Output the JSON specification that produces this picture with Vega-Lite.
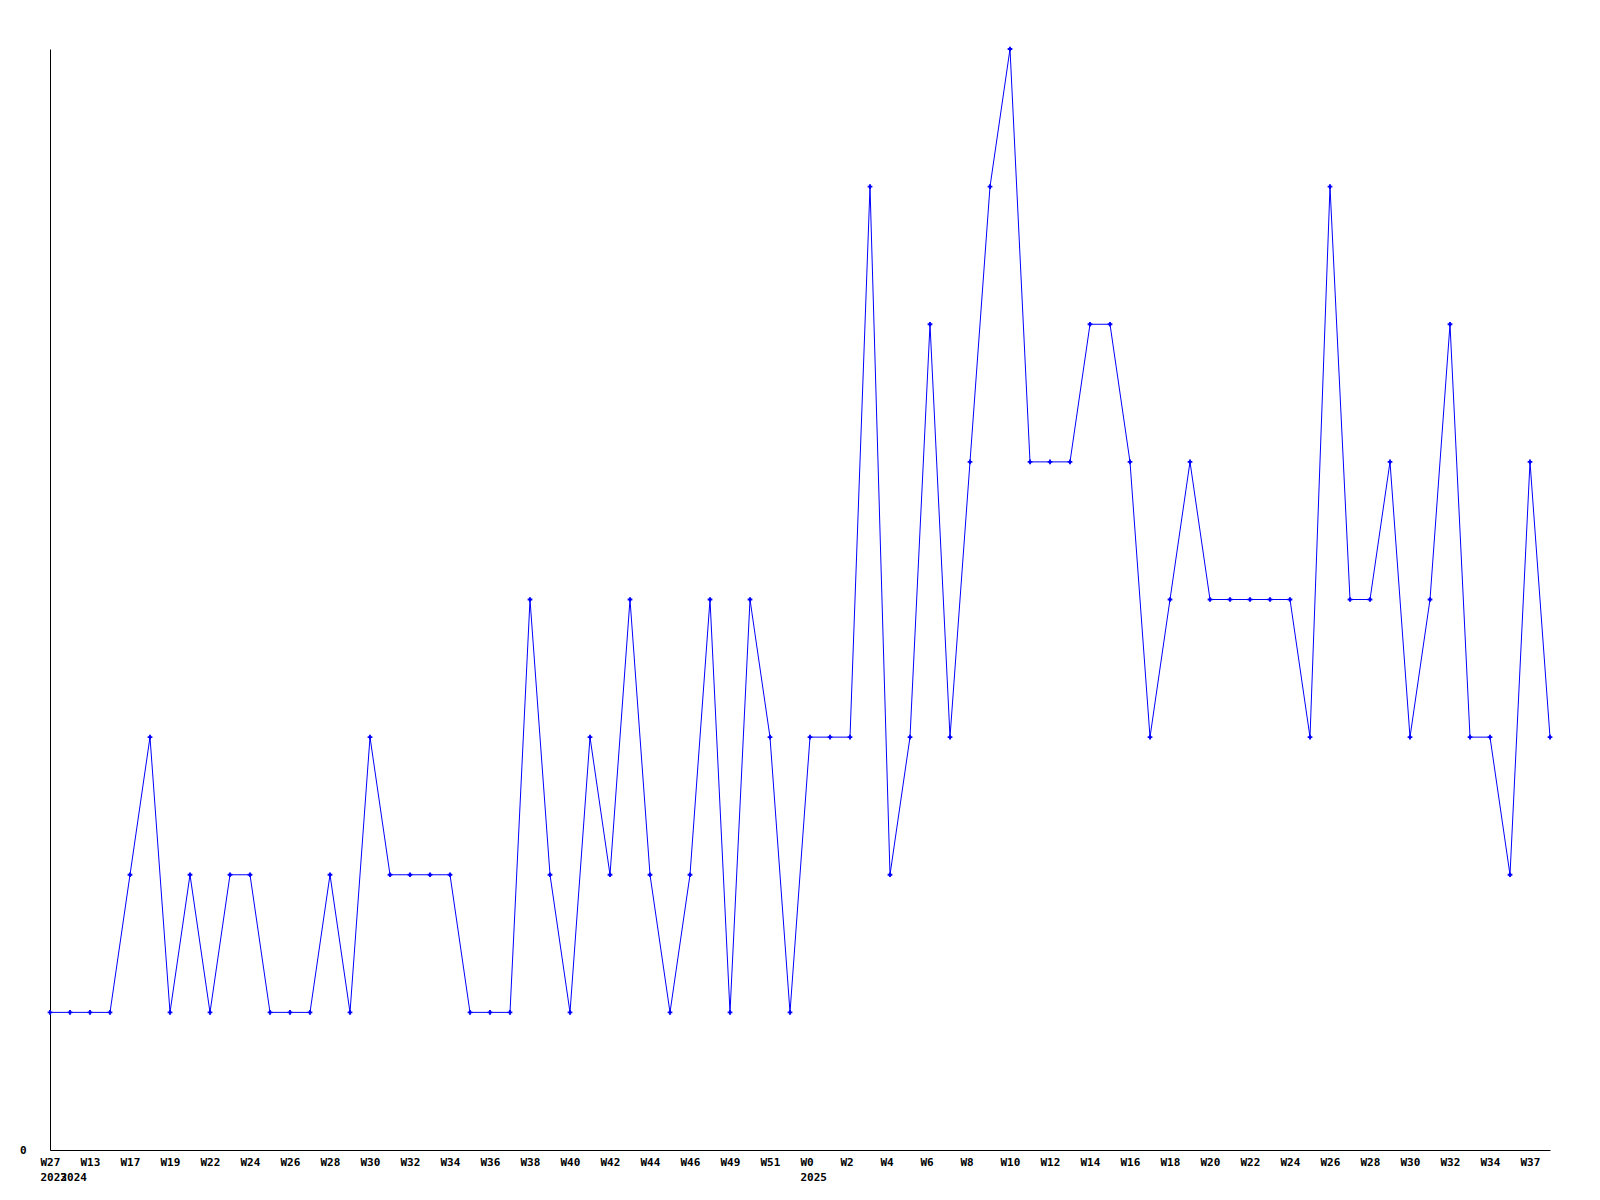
{
  "$schema": "https://vega.github.io/schema/vega-lite/v6.json",
  "autosize": "none",
  "width": 1500,
  "height": 1101,
  "padding": {"left": 50, "top": 49, "right": 50, "bottom": 50},
  "background": "white",
  "config": {"view": {"stroke": null}},
  "data": {"values": [
    {"week": "2023-W27", "count": 1},
    {"week": "2024-W11", "count": 1},
    {"week": "2024-W13", "count": 1},
    {"week": "2024-W15", "count": 1},
    {"week": "2024-W17", "count": 2},
    {"week": "2024-W18", "count": 3},
    {"week": "2024-W19", "count": 1},
    {"week": "2024-W20", "count": 2},
    {"week": "2024-W22", "count": 1},
    {"week": "2024-W23", "count": 2},
    {"week": "2024-W24", "count": 2},
    {"week": "2024-W25", "count": 1},
    {"week": "2024-W26", "count": 1},
    {"week": "2024-W27", "count": 1},
    {"week": "2024-W28", "count": 2},
    {"week": "2024-W29", "count": 1},
    {"week": "2024-W30", "count": 3},
    {"week": "2024-W31", "count": 2},
    {"week": "2024-W32", "count": 2},
    {"week": "2024-W33", "count": 2},
    {"week": "2024-W34", "count": 2},
    {"week": "2024-W35", "count": 1},
    {"week": "2024-W36", "count": 1},
    {"week": "2024-W37", "count": 1},
    {"week": "2024-W38", "count": 4},
    {"week": "2024-W39", "count": 2},
    {"week": "2024-W40", "count": 1},
    {"week": "2024-W41", "count": 3},
    {"week": "2024-W42", "count": 2},
    {"week": "2024-W43", "count": 4},
    {"week": "2024-W44", "count": 2},
    {"week": "2024-W45", "count": 1},
    {"week": "2024-W46", "count": 2},
    {"week": "2024-W48", "count": 4},
    {"week": "2024-W49", "count": 1},
    {"week": "2024-W50", "count": 4},
    {"week": "2024-W51", "count": 3},
    {"week": "2024-W52", "count": 1},
    {"week": "2025-W0", "count": 3},
    {"week": "2025-W1", "count": 3},
    {"week": "2025-W2", "count": 3},
    {"week": "2025-W3", "count": 7},
    {"week": "2025-W4", "count": 2},
    {"week": "2025-W5", "count": 3},
    {"week": "2025-W6", "count": 6},
    {"week": "2025-W7", "count": 3},
    {"week": "2025-W8", "count": 5},
    {"week": "2025-W9", "count": 7},
    {"week": "2025-W10", "count": 8},
    {"week": "2025-W11", "count": 5},
    {"week": "2025-W12", "count": 5},
    {"week": "2025-W13", "count": 5},
    {"week": "2025-W14", "count": 6},
    {"week": "2025-W15", "count": 6},
    {"week": "2025-W16", "count": 5},
    {"week": "2025-W17", "count": 3},
    {"week": "2025-W18", "count": 4},
    {"week": "2025-W19", "count": 5},
    {"week": "2025-W20", "count": 4},
    {"week": "2025-W21", "count": 4},
    {"week": "2025-W22", "count": 4},
    {"week": "2025-W23", "count": 4},
    {"week": "2025-W24", "count": 4},
    {"week": "2025-W25", "count": 3},
    {"week": "2025-W26", "count": 7},
    {"week": "2025-W27", "count": 4},
    {"week": "2025-W28", "count": 4},
    {"week": "2025-W29", "count": 5},
    {"week": "2025-W30", "count": 3},
    {"week": "2025-W31", "count": 4},
    {"week": "2025-W32", "count": 6},
    {"week": "2025-W33", "count": 3},
    {"week": "2025-W34", "count": 3},
    {"week": "2025-W36", "count": 2},
    {"week": "2025-W37", "count": 5},
    {"week": "2025-W38", "count": 3}
  ]},
  "encoding": {
    "x": {
      "field": "week", "type": "ordinal", "sort": null,
      "scale": {"type": "point", "padding": 0},
      "axis": {
        "title": null, "ticks": false, "grid": false,
        "domainColor": "black", "domainWidth": 1,
        "labelAngle": 0, "labelAlign": "left", "labelOffset": -10, "labelBaseline": "top",
        "labelPadding": 6, "labelFont": "DejaVu Sans Mono", "labelFontWeight": "bold", "labelFontSize": 11,
        "labelColor": "black", "labelLineHeight": 15, "labelOverlap": false, "labelFlush": false, "labelBound": false,
        "labelExpr": "[ (round(datum.index*75) % 2 == 0) ? split(datum.value,'-')[1] : '', indexof([0,1,38], round(datum.index*75)) >= 0 ? split(datum.value,'-')[0] : '' ]"
      }
    },
    "y": {
      "field": "count", "type": "quantitative",
      "scale": {"domain": [0, 8], "nice": false, "zero": true},
      "axis": {
        "title": null, "ticks": false, "grid": false, "values": [0],
        "domainColor": "black", "domainWidth": 1,
        "labelPadding": 24, "labelFont": "DejaVu Sans Mono", "labelFontWeight": "bold", "labelFontSize": 11,
        "labelColor": "black"
      }
    }
  },
  "layer": [
    {"mark": {"type": "line", "color": "#0000ff", "strokeWidth": 1}},
    {"mark": {"type": "point", "shape": "cross", "filled": true, "color": "#0000ff", "size": 22, "opacity": 1}}
  ]
}
